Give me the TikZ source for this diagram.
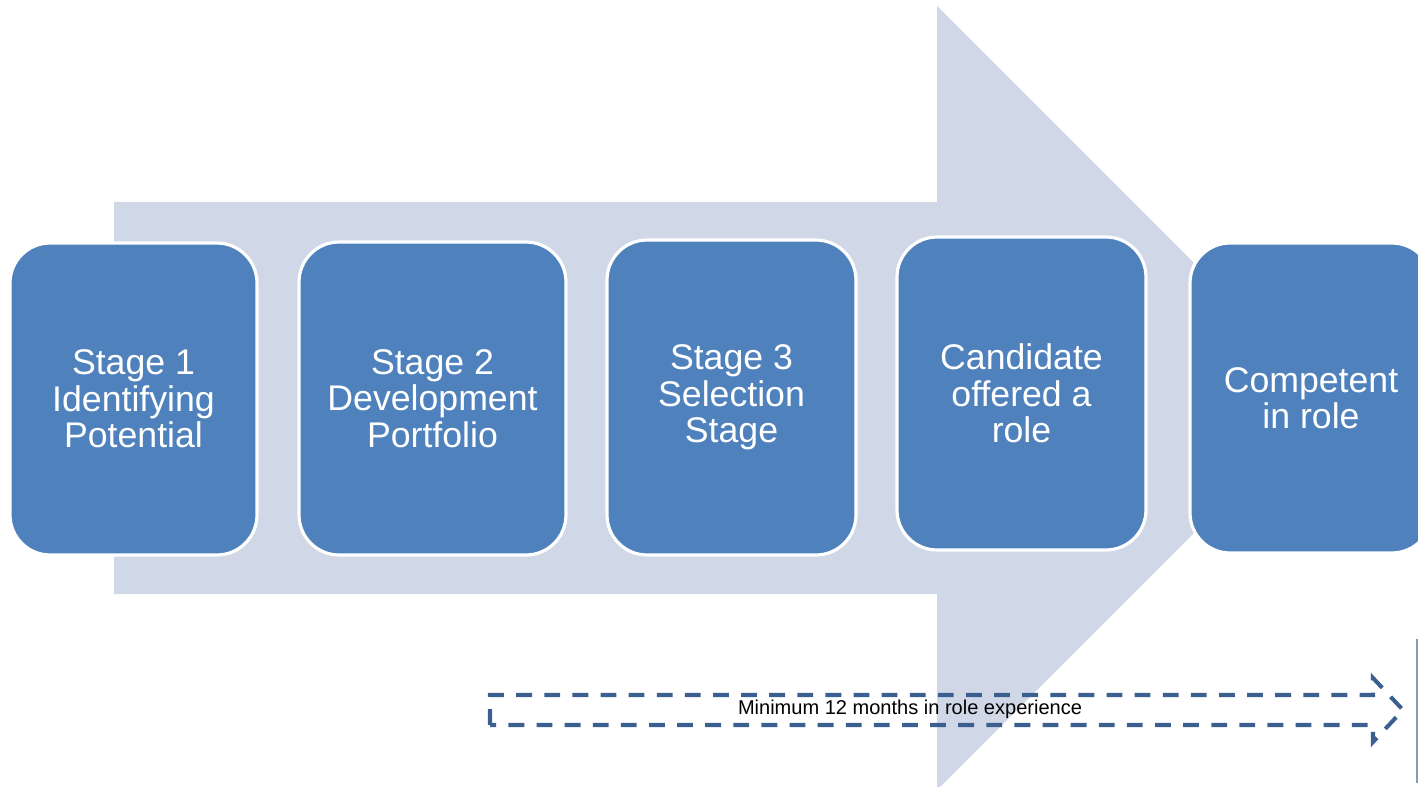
\documentclass[tikz,border=0pt]{standalone}
\usepackage{fontspec}
\setmainfont{Liberation Sans}
\begin{document}
\definecolor{stagefill}{HTML}{4F81BD}
\definecolor{flowband}{HTML}{D0D8E8}
\definecolor{spanline}{HTML}{3B5F8E}
\definecolor{edgeline}{HTML}{8A9AB8}
\begin{tikzpicture}[x=0.02cm,y=-0.02cm,
  stagebox/.style={rectangle, rounded corners=0.8cm, fill=stagefill, draw=white,
    line width=1.8pt, inner sep=0pt, align=center, text=white,
    font=\fontsize{20.3}{20.8}\selectfont},
  spanarrow/.style={draw=spanline, line width=2.3pt, dash pattern=on 9pt off 7pt},
  spanlabel/.style={font=\fontsize{11.4}{13}\selectfont, text=black, inner sep=0pt}]
\useasboundingbox (0,0) rectangle (1418,787);
\begin{scope}
\clip (0,0) rectangle (1418,787);
% broad background arrow
\fill[flowband] (114,202) -- (937,202) -- (937,6) -- (1329,398) -- (937,790)
  -- (937,594) -- (114,594) -- cycle;
% the five stages
\node[stagebox, minimum width=4.94cm, minimum height=6.24cm] (s1) at (133.5,399)
  {Stage 1\\Identifying\\Potential};
\node[stagebox, minimum width=5.34cm, minimum height=6.26cm] (s2) at (432.5,398.5)
  {Stage 2\\Development\\Portfolio};
\node[stagebox, minimum width=4.98cm, minimum height=6.30cm] (s3) at (731.5,397.5)
  {Stage 3\\Selection\\Stage};
\node[stagebox, minimum width=4.98cm, minimum height=6.26cm] (s4) at (1021.5,393.5)
  {Candidate\\offered a\\role};
\node[stagebox, minimum width=4.84cm, minimum height=6.20cm] (s5) at (1311,398)
  {Competent\\in role};
% dashed span arrow with its label
\coordinate (spanA) at (490,695);
\coordinate (spanB) at (1373,695);
\coordinate (spanC) at (1373,678);
\coordinate (spanTip) at (1403,710);
\coordinate (spanD) at (1373,742);
\coordinate (spanE) at (1373,725);
\coordinate (spanF) at (490,725);
\draw[spanarrow] (spanF) -- (spanA) -- (spanB) -- (spanC) -- (spanTip) -- (spanD)
  -- (spanE) -- cycle;
\node[spanlabel] (span) at (910,709) {Minimum 12 months in role experience};
% thin edge rule at the right
\coordinate (ruleTop) at (1417,639);
\coordinate (ruleBot) at (1417,783);
\draw[edgeline, line width=0.8pt] (ruleTop) -- (ruleBot);
\end{scope}
\end{tikzpicture}
\end{document}
